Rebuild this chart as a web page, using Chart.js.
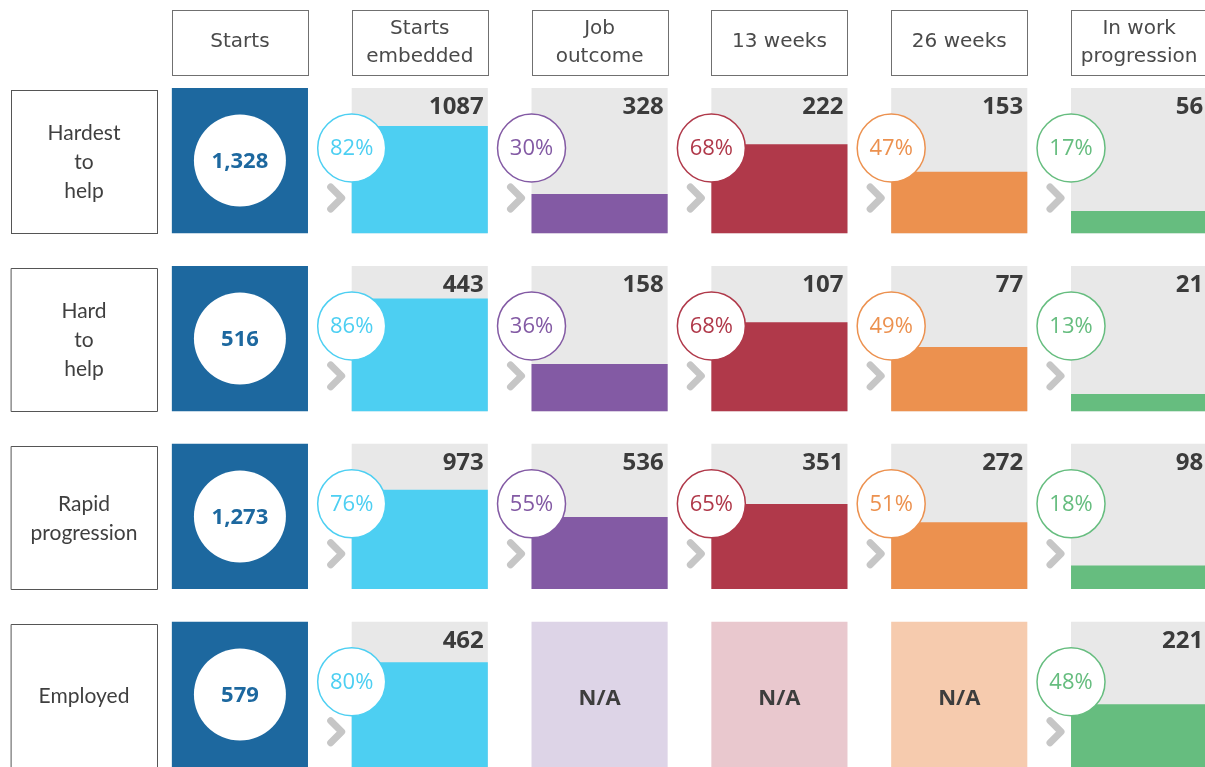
<!DOCTYPE html>
<html>
<head>
<meta charset="utf-8">
<script src="https://cdn.jsdelivr.net/npm/chart.js@4.4.1/dist/chart.umd.min.js"></script>
<style>
  html, body { margin: 0; padding: 0; background: #fff; overflow: hidden; width: 1205px; height: 767px; }
  #wrap { position: absolute; left: 0; top: 0; width: 1230px; height: 767px; }
</style>
</head>
<body>
<div id="wrap"><canvas id="funnelChart" width="1230" height="767"></canvas></div>
<script>
// --- data ---
const stages = ['Starts', 'Starts embedded', 'Job outcome', '13 weeks', '26 weeks', 'In work progression'];
const stageLines = [['Starts'], ['Starts', 'embedded'], ['Job', 'outcome'], ['13 weeks'], ['26 weeks'], ['In work', 'progression']];
const groupLines = [['Hardest', 'to', 'help'], ['Hard', 'to', 'help'], ['Rapid', 'progression'], ['Employed']];

const hardestCounts = [1328, 1087, 328, 222, 153, 56];
const hardCounts = [516, 443, 158, 107, 77, 21];
const rapidCounts = [1273, 973, 536, 351, 272, 98];
const employedCounts = [579, 462, null, null, null, 221];

const hardestPct = [null, 82, 30, 68, 47, 17];
const hardPct = [null, 86, 36, 68, 49, 13];
const rapidPct = [null, 76, 55, 65, 51, 18];
const employedPct = [null, 80, null, null, null, 48];

const counts = [hardestCounts, hardCounts, rapidCounts, employedCounts];
const percents = [hardestPct, hardPct, rapidPct, employedPct];

// --- colours ---
const stageColors = ['#1d689f', '#4dcff2', '#835aa4', '#b0394a', '#ec914f', '#66bd7f'];
const naColors = ['#dcdcdc', '#dcdcdc', '#ddd4e7', '#e9c8ce', '#f6cbae', '#cfe9d6'];
const boxGrey = '#e8e8e8';

const BOX = 111;        // box height in % units (top strip left free for the count)
const ROW_STEP = 136;   // vertical distance between rows
const rowBase = r => (counts.length - 1 - r) * ROW_STEP;

// grey / tinted boxes behind the bars
const boxSets = counts.map((row, r) => ({
    data: row.map(() => [rowBase(r), rowBase(r) + BOX]),
    backgroundColor: row.map((v, c) => c === 0 ? stageColors[0] : (v === null ? naColors[c] : boxGrey)),
    order: 2
}));

// coloured bars = conversion percentage
const barSets = percents.map((row, r) => ({
    data: row.map(p => p === null ? null : [rowBase(r), rowBase(r) + p]),
    backgroundColor: stageColors,
    order: 1
}));

// --- labels, circles and chevrons drawn on top ---
const funnelLabels = {
    id: 'funnelLabels',
    afterDatasetsDraw(chart) {
        const ctx = chart.ctx;
        ctx.save();
        ctx.textAlign = 'center';
        ctx.textBaseline = 'middle';

        // column headers
        const firstRow = chart.getDatasetMeta(0).data;
        stageLines.forEach((lines, c) => {
            const el = firstRow[c];
            const left = Math.round(el.x - el.width / 2);
            ctx.strokeStyle = '#707070';
            ctx.lineWidth = 1;
            ctx.strokeRect(left + 0.5, 10.5, Math.round(el.width), 65);
            ctx.fillStyle = '#4a4a4a';
            ctx.font = '20px "DejaVu Sans"';
            const y0 = lines.length === 1 ? 42 : 29;
            lines.forEach((t, i) => ctx.fillText(t, el.x, y0 + i * 28));
        });

        counts.forEach((row, r) => {
            const boxes = chart.getDatasetMeta(r).data;
            const top = boxes[0].y, bottom = boxes[0].base;

            // row label box
            ctx.strokeStyle = '#555';
            ctx.lineWidth = 1;
            ctx.strokeRect(11.5, Math.round(top) + 2.5, 146, Math.round(bottom - top) - 2);
            ctx.fillStyle = '#3f3f3f';
            ctx.font = '21px Lato';
            const lines = groupLines[r];
            const mid = (top + bottom) / 2 + 2;
            lines.forEach((t, i) => ctx.fillText(t, 84, mid + (i - (lines.length - 1) / 2) * 29));

            row.forEach((v, c) => {
                const el = boxes[c];
                const left = el.x - el.width / 2, right = el.x + el.width / 2;
                if (c === 0) {
                    // starts: white disc with total
                    ctx.beginPath();
                    ctx.arc(el.x, (top + bottom) / 2, 46, 0, Math.PI * 2);
                    ctx.fillStyle = '#fff';
                    ctx.fill();
                    ctx.fillStyle = stageColors[0];
                    ctx.font = 'bold 22px "Open Sans"';
                    ctx.fillText(v.toLocaleString('en-US'), el.x, (top + bottom) / 2 + 1);
                    return;
                }
                if (v === null) {
                    ctx.fillStyle = '#3d3d3d';
                    ctx.font = 'bold 22px "Open Sans"';
                    ctx.fillText('N/A', el.x, (top + bottom) / 2 + 4);
                    return;
                }
                // count at top right
                ctx.textAlign = 'right';
                ctx.textBaseline = 'alphabetic';
                ctx.fillStyle = '#3b3b3b';
                ctx.font = 'bold 24px "Open Sans"';
                ctx.fillText(String(v), right - 4, top + 26);
                ctx.textAlign = 'center';
                ctx.textBaseline = 'middle';

                // chevron
                ctx.beginPath();
                ctx.moveTo(left - 21, top + 99);
                ctx.lineTo(left - 10, top + 110);
                ctx.lineTo(left - 21, top + 121);
                ctx.strokeStyle = '#c6c6c6';
                ctx.lineWidth = 7;
                ctx.lineCap = 'round';
                ctx.lineJoin = 'round';
                ctx.stroke();

                // percentage circle
                const cy = top + 60;
                ctx.beginPath();
                ctx.arc(left, cy, 34, 0, Math.PI * 2);
                ctx.fillStyle = '#fff';
                ctx.fill();
                ctx.strokeStyle = stageColors[c];
                ctx.lineWidth = 1.5;
                ctx.stroke();
                ctx.fillStyle = stageColors[c];
                ctx.font = '22px "Open Sans"';
                ctx.fillText(percents[r][c] + '%', left, cy + 1);
            });
        });
        ctx.restore();
    }
};

const chart = new Chart(document.getElementById('funnelChart'), {
    type: 'bar',
    data: {
        labels: stages,
        datasets: [...boxSets, ...barSets]
    },
    options: {
        responsive: false,
        animation: false,
        devicePixelRatio: 1,
        layout: { padding: { left: 150, right: 1, top: 86, bottom: 0 } },
        datasets: {
            bar: { grouped: false, categoryPercentage: 1, barPercentage: 0.757, borderWidth: 0 }
        },
        plugins: {
            legend: { display: false },
            tooltip: { enabled: false }
        },
        scales: {
            x: { display: false },
            y: { display: false, min: 0, max: 520.5 }
        }
    },
    plugins: [funnelLabels]
});
</script>
</body>
</html>
